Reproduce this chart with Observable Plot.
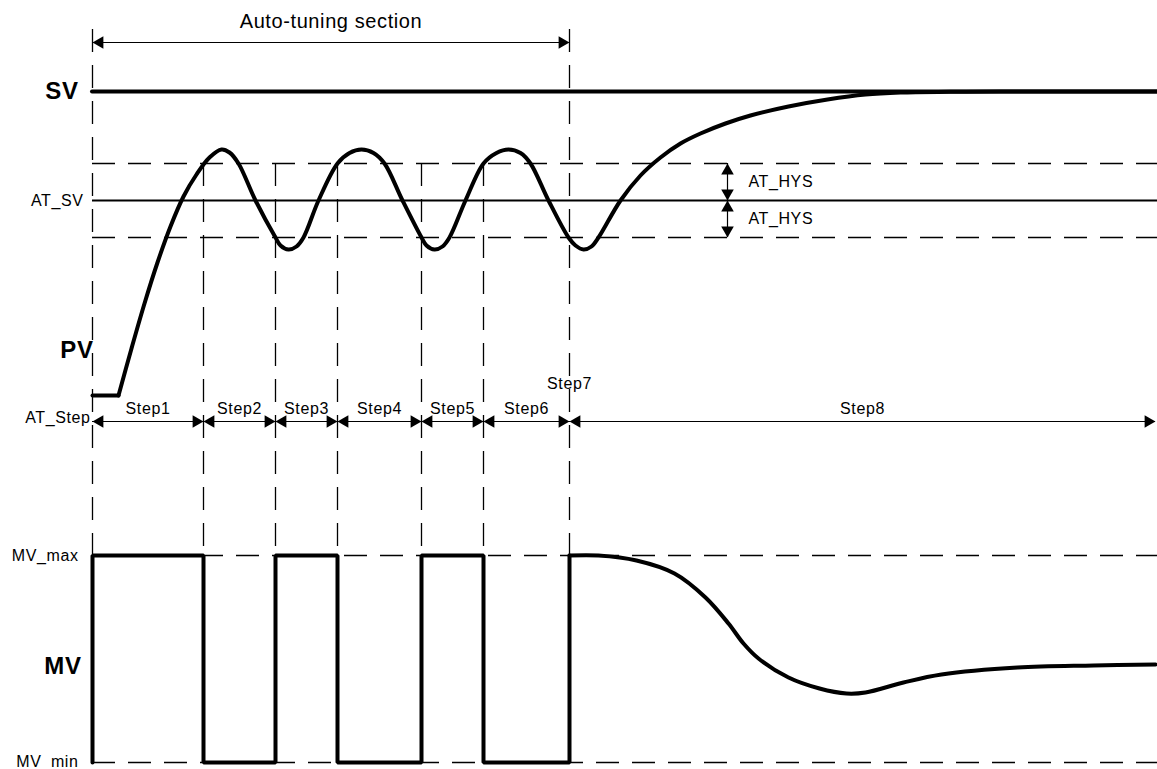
<!DOCTYPE html>
<html>
<head>
<meta charset="utf-8">
<script src="https://cdn.jsdelivr.net/npm/d3@7"></script>
<script src="https://cdn.jsdelivr.net/npm/@observablehq/plot@0.6"></script>
<style>
  html, body { margin: 0; padding: 0; background: #fff; }
  #chart svg { display: block; }
</style>
</head>
<body>
<div id="chart"></div>
<script>
// ---------- data (diagram units: x = time, y = level measured downward) ----------
const stepBounds = [92, 203, 275, 337, 421, 483, 569];
const endT = 1155;
const stepLabels = ["Step1", "Step2", "Step3", "Step4", "Step5", "Step6"];
const step7Label = "Step7";
const step8Label = "Step8";
const mvPattern = ["max", "min", "max", "min", "max", "min"];

const levelSV = 91;
const levelHysHi = 163;
const levelATSV = 200;
const levelHysLo = 237;
const levelPV0 = 395;
const levelMVmax = 555;
const levelMVmin = 762;
const levelTopArrow = 42;
const levelStepAxis = 421;
const guideTop = 29;
const hysArrowT = 727;
const pvRiseStart = 118;

// PV response
const pvT = [118, 131, 144, 157, 170, 183, 196, 209, 221, 229,
             238, 255, 275, 280, 288, 296, 303, 318, 337, 349, 361, 373,
             384, 402, 421, 426, 434, 442, 449, 465, 483, 496, 508, 520,
             530, 548, 568, 575, 583, 591, 598, 620, 640, 660,
             680, 700, 725, 750, 788, 827, 865, 900, 950, 1000, 1157];
const pvV = [395, 348, 303, 262, 226, 196, 174, 157, 149, 152,
             163, 200, 237, 245, 249, 246, 237, 200, 163, 152.5, 149, 152.5,
             163, 200, 237, 245, 249, 246, 237, 200, 163, 152.5, 149, 152.5,
             163, 200, 237, 245, 249, 246, 237, 200, 175, 157,
             143, 133, 123, 115, 106, 99, 94, 92, 91.3, 91, 91];

// MV after auto-tuning
const mvT = [569, 598, 636, 674, 705, 728, 743, 758, 788, 819, 846, 865, 903, 941, 1017, 1093, 1155];
const mvV = [555, 555, 560, 573, 597, 623, 643, 658, 677, 688, 693, 692, 682, 674, 667, 665, 664];

// ---------- derived tables ----------
const pv = pvT.map((t, i) => ({t, v: pvV[i]}));
const pvFlat = [{t: stepBounds[0], v: levelPV0}, {t: pvRiseStart, v: levelPV0}];
const mvTail = mvT.map((t, i) => ({t, v: mvV[i]}));
const lvl = k => (k === "max" ? levelMVmax : levelMVmin);
const mvSquare = [];
let prev = levelMVmin;
mvPattern.forEach((k, i) => {
  mvSquare.push({t: stepBounds[i], v: prev});
  mvSquare.push({t: stepBounds[i], v: lvl(k)});
  prev = lvl(k);
});
mvSquare.push({t: stepBounds[6], v: prev});
mvSquare.push({t: stepBounds[6], v: levelMVmax});

const stepSegs = [];
for (let i = 0; i < 6; i++) stepSegs.push({a: stepBounds[i], b: stepBounds[i + 1], label: stepLabels[i]});
stepSegs.push({a: stepBounds[6], b: endT, label: step8Label});

const longGuides = [stepBounds[0], stepBounds[6]];
const shortGuides = stepBounds.slice(1, 6);

const hSegs = [
  {a: stepBounds[0], b: stepBounds[6], y: levelTopArrow},
  ...stepSegs.map(s => ({a: s.a, b: s.b, y: levelStepAxis}))
];
const rightHeads = hSegs.map(s => ({t: s.b, v: s.y}));
const leftHeads = hSegs.map(s => ({t: s.a, v: s.y}));
const vSegs = [{a: levelHysHi, b: levelATSV}, {a: levelATSV, b: levelHysLo}];
const upHeads = vSegs.map(s => ({t: hysArrowT, v: s.a}));
const downHeads = vSegs.map(s => ({t: hysArrowT, v: s.b}));

const font = "'Liberation Sans', Arial, sans-serif";
const dash = "23,13";
const headR = 6;
const tip = Math.sqrt(Math.PI * headR * headR) * 0.6824;

const chart = Plot.plot({
  width: 1157,
  height: 769,
  margin: 0,
  x: {domain: [0, 1157], range: [0, 1157], axis: null},
  y: {domain: [0, 769], range: [0, 769], axis: null},
  style: {fontFamily: font, background: "#fff", letterSpacing: "0.6px"},
  marks: [
    // dashed guides
    Plot.ruleX(longGuides, {x: d => d, y1: guideTop, y2: levelMVmin, stroke: "#000", strokeWidth: 1.3, strokeDasharray: dash}),
    Plot.ruleX(shortGuides, {x: d => d, y1: levelHysHi, y2: levelMVmax, stroke: "#000", strokeWidth: 1.3, strokeDasharray: dash}),
    Plot.ruleY([levelHysHi, levelHysLo, levelMVmax, levelMVmin], {y: d => d, x1: stepBounds[0], x2: 1157, stroke: "#000", strokeWidth: 1.3, strokeDasharray: dash}),
    // AT_SV and SV
    Plot.ruleY([levelATSV], {y: d => d, x1: stepBounds[0], x2: 1157, stroke: "#000", strokeWidth: 2}),
    Plot.ruleY([levelSV], {y: d => d, x1: stepBounds[0], x2: 1157, stroke: "#000", strokeWidth: 4, strokeLinecap: "round"}),
    // arrows (lines)
    Plot.ruleY(hSegs, {y: "y", x1: "a", x2: "b", stroke: "#000", strokeWidth: 1.2}),
    Plot.ruleX(vSegs, {x: () => hysArrowT, y1: "a", y2: "b", stroke: "#000", strokeWidth: 1.2}),
    Plot.dot(rightHeads, {x: "t", y: "v", r: headR, symbol: "triangle2", fill: "#000", rotate: 90, dx: -tip}),
    Plot.dot(leftHeads, {x: "t", y: "v", r: headR, symbol: "triangle2", fill: "#000", rotate: -90, dx: tip}),
    Plot.dot(upHeads, {x: "t", y: "v", r: headR, symbol: "triangle2", fill: "#000", rotate: 0, dy: tip}),
    Plot.dot(downHeads, {x: "t", y: "v", r: headR, symbol: "triangle2", fill: "#000", rotate: 180, dy: -tip}),
    // PV
    Plot.line(pvFlat, {x: "t", y: "v", stroke: "#000", strokeWidth: 4, strokeLinecap: "round"}),
    Plot.line(pv, {x: "t", y: "v", curve: "catmull-rom", stroke: "#000", strokeWidth: 4, strokeLinecap: "round"}),
    // MV
    Plot.line(mvSquare, {x: "t", y: "v", stroke: "#000", strokeWidth: 4, strokeLinejoin: "miter"}),
    Plot.line(mvTail, {x: "t", y: "v", curve: "catmull-rom", stroke: "#000", strokeWidth: 4, strokeLinecap: "round"}),
    // texts
    Plot.text(["Auto-tuning section"], {x: (stepBounds[0] + stepBounds[6]) / 2, y: 21, text: d => d, fontSize: 20, fill: "#000"}),
    Plot.text(stepSegs, {x: d => (d.a + d.b) / 2, y: levelStepAxis, text: "label", fontSize: 16, dy: -13, fill: "#000"}),
    Plot.text([step7Label], {x: stepBounds[6], y: levelStepAxis, text: d => d, fontSize: 16, dy: -38, fill: "#000"}),
    Plot.text(["AT_HYS", "AT_HYS"], {x: hysArrowT, y: (d, i) => i === 0 ? (levelHysHi + levelATSV) / 2 : (levelATSV + levelHysLo) / 2, text: d => d, fontSize: 16, textAnchor: "start", dx: 21, fill: "#000"}),
    Plot.text(["SV"], {x: stepBounds[0], y: levelSV, text: d => d, fontSize: 24, fontWeight: "bold", textAnchor: "end", dx: -14, fill: "#000"}),
    Plot.text(["AT_SV"], {x: stepBounds[0], y: levelATSV, text: d => d, fontSize: 16, textAnchor: "end", dx: -9, fill: "#000"}),
    Plot.text(["PV"], {x: stepBounds[0], y: levelPV0, text: d => d, fontSize: 24, fontWeight: "bold", textAnchor: "end", dx: 1, dy: -45, fill: "#000"}),
    Plot.text(["AT_Step"], {x: stepBounds[0], y: levelStepAxis, text: d => d, fontSize: 16, textAnchor: "end", dx: -2, dy: -4, fill: "#000"}),
    Plot.text(["MV_max"], {x: stepBounds[0], y: levelMVmax, text: d => d, fontSize: 16, textAnchor: "end", dx: -14, fill: "#000"}),
    Plot.text(["MV"], {x: stepBounds[0], y: (levelMVmax + levelMVmin) / 2, text: d => d, fontSize: 24, fontWeight: "bold", textAnchor: "end", dx: -11, dy: 7, fill: "#000"}),
    Plot.text(["MV_min"], {x: stepBounds[0], y: levelMVmin, text: d => d, fontSize: 16, textAnchor: "end", dx: -14, dy: -1, fill: "#000"})
  ]
});
document.getElementById("chart").appendChild(chart);
</script>
</body>
</html>
